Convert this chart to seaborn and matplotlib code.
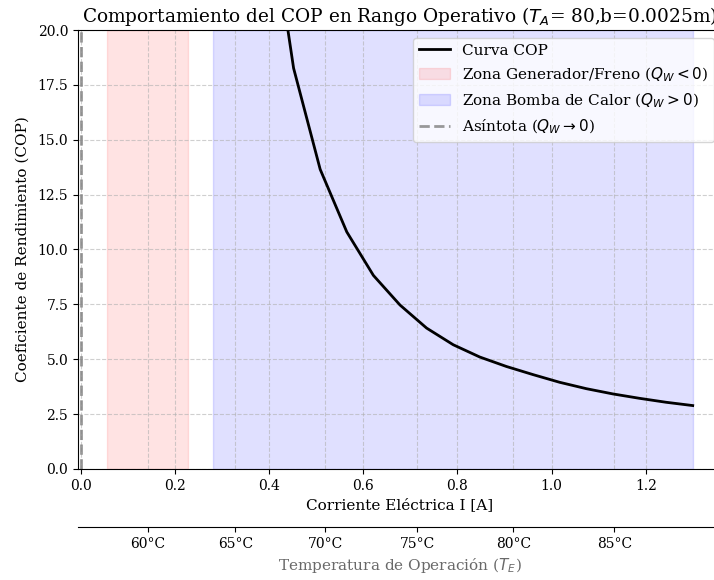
import matplotlib
matplotlib.use("Agg")
import matplotlib.pyplot as plt
import seaborn as sns
import pandas as pd

# ---- data ----
current_A = [0.3954, 0.4520, 0.5085, 0.5650, 0.6215, 0.6780, 0.7345, 0.7911,
             0.8476, 0.9041, 0.9606, 1.0171, 1.0736, 1.1302, 1.1867, 1.2432, 1.2997]
cop_values = [26.4, 18.26, 13.65, 10.80, 8.82, 7.47, 6.42, 5.66,
              5.10, 4.67, 4.30, 3.95, 3.66, 3.42, 3.22, 3.04, 2.89]

generator_zone = [0.0563, 0.227]
heat_pump_zone = [0.281, 1.2997]
asymptote_current = 0.0

temp_labels = ["60°C", "65°C", "70°C", "75°C", "80°C", "85°C"]
temp_current = [0.143, 0.3286, 0.519, 0.7143, 0.919, 1.133]

x_ticks = [0.0, 0.2, 0.4, 0.6, 0.8, 1.0, 1.2]
y_ticks = [0.0, 2.5, 5.0, 7.5, 10.0, 12.5, 15.0, 17.5, 20.0]

df = pd.DataFrame({"I": current_A, "COP": cop_values})

plt.rcParams["font.family"] = ["DejaVu Serif"]
plt.rcParams["mathtext.fontset"] = "dejavusans"

fig = plt.figure(figsize=(7.14, 5.8), dpi=100)
ax = fig.add_axes([78 / 714, 111 / 580, 644 / 714, 439 / 580])

sns.lineplot(data=df, x="I", y="COP", ax=ax, color="black", linewidth=2,
             label="Curva COP")
ax.axvspan(generator_zone[0], generator_zone[1], color="red", alpha=0.11,
           label="Zona Generador/Freno ($Q_W < 0$)")
ax.axvspan(heat_pump_zone[0], heat_pump_zone[1], color="blue", alpha=0.12,
           label="Zona Bomba de Calor ($Q_W > 0$)")
ax.axvline(asymptote_current, color="gray", linestyle="--", linewidth=2, alpha=0.8,
           label="Asíntota ($Q_W \\to 0$)")

ax.set_xlim(-0.0059, 1.3619)
ax.set_ylim(0, 20)
ax.set_xticks(x_ticks)
ax.set_xticklabels([f"{v:.1f}" for v in x_ticks])
ax.set_yticks(y_ticks)
ax.set_yticklabels([f"{v:.1f}" for v in y_ticks])
ax.set_xticks(temp_current, minor=True)
ax.tick_params(axis="x", which="minor", length=0)
ax.tick_params(labelsize=10)
ax.grid(True, which="both", linestyle="--", alpha=0.6)

ax.set_xlabel("Corriente Eléctrica I [A]", fontsize=11)
ax.set_ylabel("Coeficiente de Rendimiento (COP)", fontsize=11, labelpad=6)
ax.set_title("Comportamiento del COP en Rango Operativo ($T_A$= 80,b=0.0025m)",
             fontsize=13.3)

handles, labels = ax.get_legend_handles_labels()
ax.legend(handles, labels, loc="upper right", fontsize=11)

# secondary temperature axis
ax2 = ax.twiny()
ax2.set_xlim(ax.get_xlim())
ax2.set_xticks(temp_current)
ax2.set_xticklabels(temp_labels)
ax2.xaxis.set_ticks_position("bottom")
ax2.xaxis.set_label_position("bottom")
ax2.spines["bottom"].set_position(("outward", 41.8))
for s in ["top", "left", "right"]:
    ax2.spines[s].set_visible(False)
ax2.tick_params(labelsize=10)
ax2.set_xlabel("Temperatura de Operación ($T_E$)", fontsize=11, color="dimgray")

fig.savefig("out.png", dpi=100)
